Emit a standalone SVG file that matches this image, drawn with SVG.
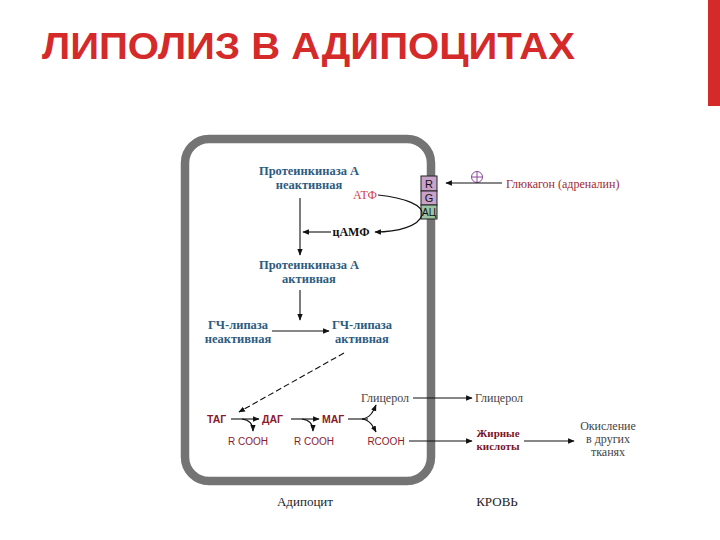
<svg xmlns="http://www.w3.org/2000/svg" width="720" height="540" viewBox="0 0 720 540">
<defs>
<marker id="ah" viewBox="0 0 10 10" refX="9" refY="5" markerWidth="6" markerHeight="6" orient="auto"><path d="M0,1 L10,5 L0,9 z" fill="#111"/></marker>
<style>
.ln{stroke:#111;stroke-width:1.1;fill:none}
.blue{font-family:"Liberation Serif",serif;font-weight:bold;font-size:12.5px;fill:#2d5c80;text-anchor:middle}
.red{font-family:"Liberation Sans",sans-serif;font-weight:bold;font-size:10.5px;fill:#8a1a2c}
.rc{font-family:"Liberation Sans",sans-serif;font-size:10px;fill:#8a1a2c;text-anchor:middle}
.gr{font-family:"Liberation Serif",serif;font-size:12px;fill:#444}
</style>
</defs>
<rect width="720" height="540" fill="#fff"/>
<rect x="708" y="0" width="12" height="106" fill="#d42a2a"/>
<text x="42" y="59" font-family="Liberation Sans,sans-serif" font-weight="bold" font-size="36" fill="#d42a2a" textLength="533" lengthAdjust="spacingAndGlyphs">ЛИПОЛИЗ В АДИПОЦИТАХ</text>
<g id="cell"><rect x="185" y="139" width="246" height="342" rx="24" fill="none" stroke="#747474" stroke-width="8.5"/></g>
<g id="receptor">
<rect x="421" y="176" width="16" height="15" fill="#c8a2c8" stroke="#222" stroke-width="1"/>
<rect x="421" y="191" width="16" height="14" fill="#c8a2c8" stroke="#222" stroke-width="1"/>
<rect x="421" y="205" width="16" height="14" fill="#9cc4a4" stroke="#222" stroke-width="1"/>
<text x="429" y="188" font-family="Liberation Sans,sans-serif" font-size="11" text-anchor="middle" fill="#111">R</text>
<text x="429" y="202" font-family="Liberation Sans,sans-serif" font-size="11" text-anchor="middle" fill="#111">G</text>
<text x="429" y="216" font-family="Liberation Sans,sans-serif" font-size="11" text-anchor="middle" fill="#111" textLength="14" lengthAdjust="spacingAndGlyphs">АЦ</text>
</g>
<g id="pka-in"><text class="blue" x="309" y="175">Протеинкиназа А</text><text class="blue" x="309" y="189">неактивная</text></g>
<g id="atp"><text x="365" y="199" font-family="Liberation Serif,serif" font-size="12" fill="#d2404e" text-anchor="middle">АТФ</text></g>
<g id="camp"><text x="351" y="236" font-family="Liberation Serif,serif" font-weight="bold" font-size="12" fill="#111" text-anchor="middle">цАМФ</text></g>
<g id="pka-act"><text class="blue" x="309" y="269">Протеинкиназа А</text><text class="blue" x="309" y="283">активная</text></g>
<g id="hsl-in"><text class="blue" x="238" y="329">ГЧ-липаза</text><text class="blue" x="238" y="343">неактивная</text></g>
<g id="hsl-act"><text class="blue" x="362" y="329">ГЧ-липаза</text><text class="blue" x="362" y="343">активная</text></g>
<g id="glucagon"><text x="506" y="188" font-family="Liberation Serif,serif" font-size="12" fill="#a02a30">Глюкагон (адреналин)</text>
<circle cx="477" cy="177" r="5.5" fill="none" stroke="#8a4a9a" stroke-width="1"/><path d="M471.5,177 H482.5 M477,171.5 V182.5" stroke="#8a4a9a" stroke-width="1"/></g>
<g id="tag"><text class="red" x="207" y="423">ТАГ</text></g>
<g id="dag"><text class="red" x="262" y="423">ДАГ</text></g>
<g id="mag"><text class="red" x="322" y="423">МАГ</text></g>
<g id="rcooh1"><text class="rc" x="248" y="445">R COOH</text></g>
<g id="rcooh2"><text class="rc" x="314" y="445">R COOH</text></g>
<g id="rcooh3"><text class="rc" x="386" y="445">RCOOH</text></g>
<g id="glyc-in"><text class="gr" x="361" y="402">Глицерол</text></g>
<g id="glyc-out"><text class="gr" x="475" y="402">Глицерол</text></g>
<g id="fa"><text x="498" y="437" font-family="Liberation Serif,serif" font-weight="bold" font-size="11" fill="#7a1526" text-anchor="middle">Жирные</text><text x="498" y="450" font-family="Liberation Serif,serif" font-weight="bold" font-size="11" fill="#7a1526" text-anchor="middle">кислоты</text></g>
<g id="ox"><text class="gr" x="608" y="430" text-anchor="middle" font-size="13">Окисление</text><text class="gr" x="608" y="443" text-anchor="middle" font-size="13">в других</text><text class="gr" x="608" y="456" text-anchor="middle" font-size="13">тканях</text></g>
<g id="lab-adip"><text x="305" y="506" font-family="Liberation Serif,serif" font-size="13" fill="#222" text-anchor="middle">Адипоцит</text></g>
<g id="lab-blood"><text x="497" y="506" font-family="Liberation Serif,serif" font-size="13" fill="#222" text-anchor="middle">КРОВЬ</text></g>
<g id="connectors">
<path class="ln" d="M502,183 H446" marker-end="url(#ah)"/>
<path class="ln" d="M378,195 C405,198 424,205 422,215 C419,226 398,232 375,232" marker-end="url(#ah)"/>
<path class="ln" d="M331,232 H303" marker-end="url(#ah)"/>
<path class="ln" d="M300,198 V255" marker-end="url(#ah)"/>
<path class="ln" d="M300,290 V320" marker-end="url(#ah)"/>
<path class="ln" d="M272,331 H329" marker-end="url(#ah)"/>
<path class="ln" d="M344,353 L239,412" stroke-dasharray="6,3" marker-end="url(#ah)"/>
<path class="ln" d="M231,419 H259" marker-end="url(#ah)"/>
<path class="ln" d="M242,419 C250,420 253,424 253,431" marker-end="url(#ah)"/>
<path class="ln" d="M291,419 H319" marker-end="url(#ah)"/>
<path class="ln" d="M302,419 C310,420 313,424 313,431" marker-end="url(#ah)"/>
<path class="ln" d="M348,419 H368"/>
<path class="ln" d="M362,419 C370,418 373,412 376,405" marker-end="url(#ah)"/>
<path class="ln" d="M362,419 C370,420 373,426 376,432" marker-end="url(#ah)"/>
<path class="ln" d="M413,398 H472" marker-end="url(#ah)"/>
<path class="ln" d="M409,441 H472" marker-end="url(#ah)"/>
<path class="ln" d="M524,441 H574" marker-end="url(#ah)"/>
</g>
</svg>
